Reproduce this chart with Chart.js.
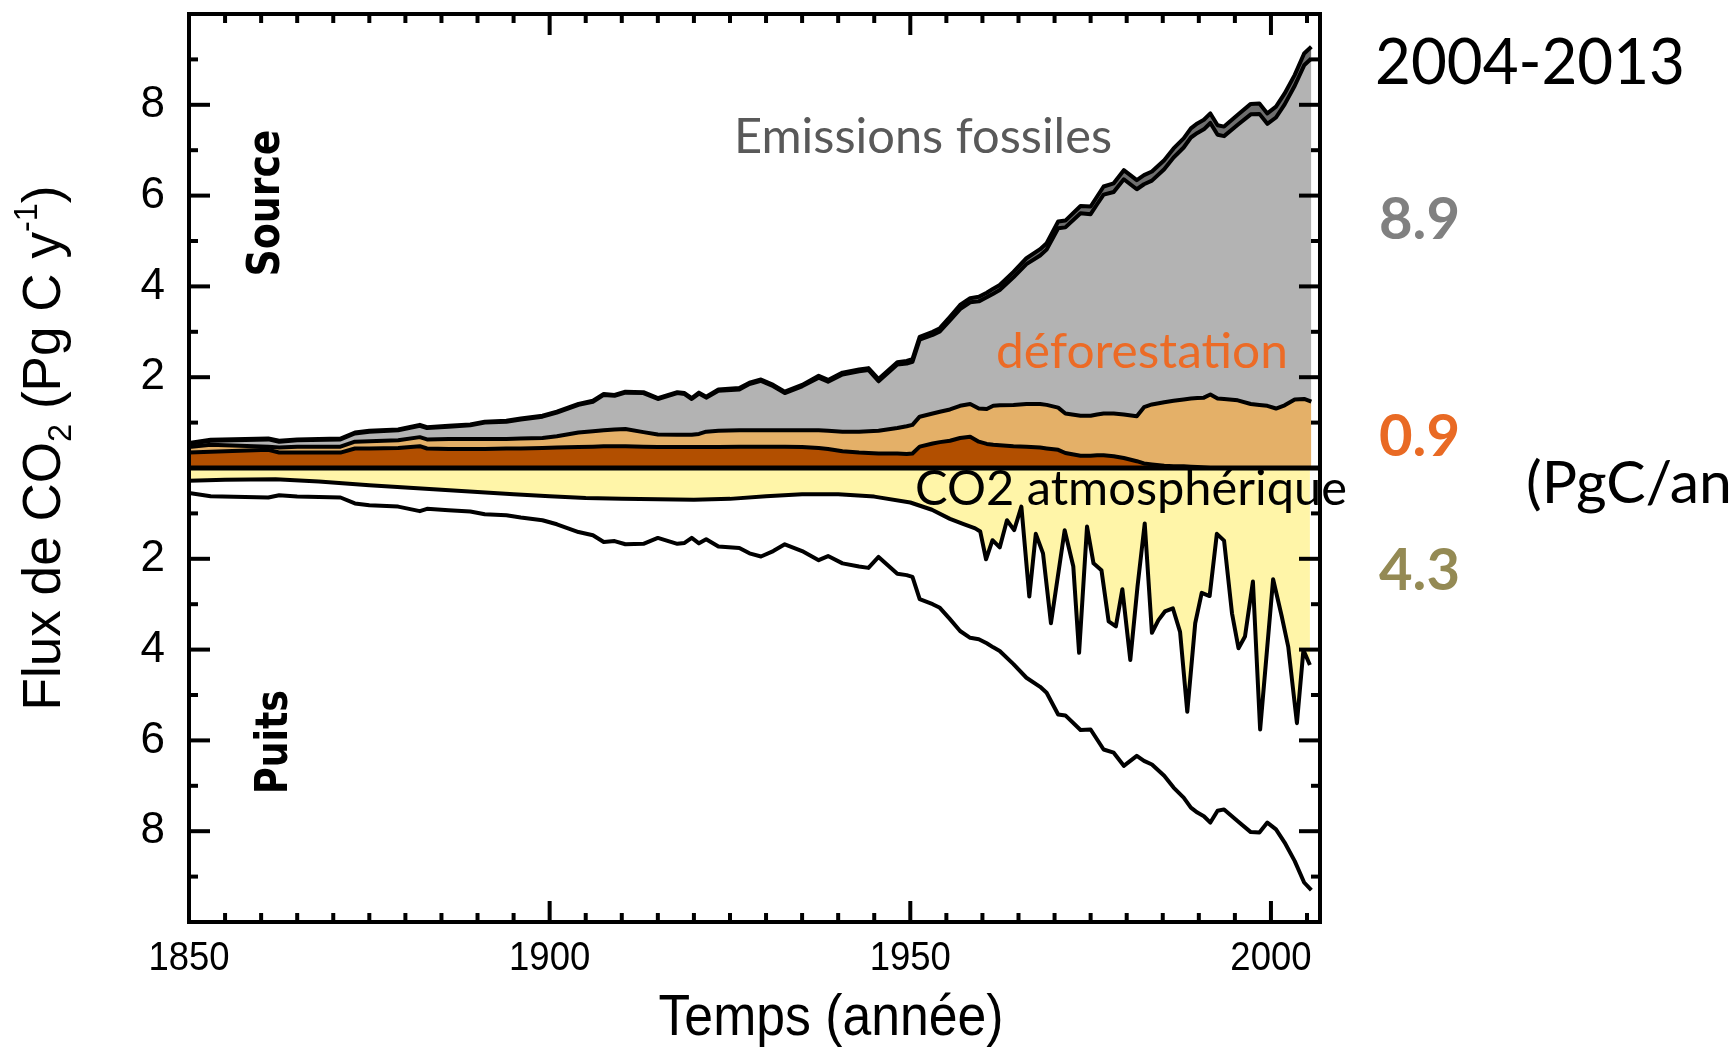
<!DOCTYPE html>
<html>
<head>
<meta charset="utf-8">
<title>Flux de CO2</title>
<script src="https://cdn.jsdelivr.net/npm/chart.js@4.4.1/dist/chart.umd.min.js"></script>
<style>
  html, body { margin: 0; padding: 0; background: #fff; }
  canvas { display: block; }
</style>
</head>
<body>
<canvas id="budget" width="1730" height="1052"></canvas>
<script>
// years used by the source layers and by the sink line
const years = [
  1850, 1853, 1861, 1862.5, 1865, 1871, 1873, 1875, 1879, 1882,
  1883, 1886, 1889, 1891, 1894, 1896, 1899, 1901, 1904, 1906,
  1907.5, 1909, 1910.5, 1913, 1915, 1917.7, 1918.7, 1919.7, 1920.7, 1921.7,
  1923.4, 1926.3, 1927.7, 1929.3, 1931, 1932.6, 1935, 1937.3, 1938.6, 1940.6,
  1942.9, 1944.2, 1945.6, 1948.2, 1949.5, 1950.3, 1951.3, 1953.1, 1954.1, 1955.5,
  1956.9, 1958.3, 1959.5, 1960.6, 1961.5, 1962.4, 1964.3, 1966.1, 1968, 1968.9,
  1970.5, 1971.5, 1973.6, 1975, 1975.9, 1976.8, 1978.2, 1979.6, 1981.4, 1982.4,
  1983.5, 1985.2, 1986.5, 1987.9, 1988.9, 1989.8, 1990.7, 1991.6, 1992.6, 1993.5,
  1995.4, 1997.2, 1998.4, 1999.5, 2000.7, 2001.9, 2003.3, 2004.6, 2005.6
];

// top of the dark brown band (deforestation, part 1)
const landUseA = [
  0.34, 0.36, 0.40, 0.34, 0.34, 0.34, 0.43, 0.43, 0.44, 0.48,
  0.43, 0.42, 0.42, 0.42, 0.43, 0.43, 0.44, 0.45, 0.46, 0.47,
  0.48, 0.48, 0.48, 0.47, 0.46, 0.46, 0.46, 0.46, 0.46, 0.46,
  0.46, 0.47, 0.47, 0.47, 0.47, 0.47, 0.46, 0.44, 0.42, 0.37,
  0.34, 0.33, 0.32, 0.32, 0.31, 0.32, 0.47, 0.54, 0.57, 0.60,
  0.66, 0.69, 0.58, 0.53, 0.51, 0.50, 0.48, 0.47, 0.45, 0.43,
  0.40, 0.33, 0.27, 0.27, 0.28, 0.28, 0.26, 0.22, 0.15, 0.10,
  0.08, 0.05, 0.04, 0.04, 0.03, 0.02, 0.01, 0, 0, 0,
  0, 0, 0, 0, 0, 0, 0, 0, 0
];

// top of the tan band (total deforestation)
const landUseB = [
  0.46, 0.51, 0.47, 0.45, 0.47, 0.47, 0.58, 0.59, 0.61, 0.68,
  0.63, 0.64, 0.64, 0.64, 0.64, 0.65, 0.66, 0.70, 0.78, 0.81,
  0.83, 0.85, 0.86, 0.79, 0.74, 0.73, 0.73, 0.73, 0.75, 0.80,
  0.82, 0.83, 0.83, 0.83, 0.83, 0.83, 0.83, 0.83, 0.82, 0.80,
  0.80, 0.81, 0.82, 0.88, 0.92, 0.95, 1.13, 1.20, 1.24, 1.29,
  1.37, 1.41, 1.31, 1.30, 1.37, 1.38, 1.39, 1.41, 1.41, 1.39,
  1.33, 1.20, 1.15, 1.15, 1.18, 1.20, 1.20, 1.18, 1.14, 1.34,
  1.40, 1.45, 1.48, 1.51, 1.53, 1.54, 1.55, 1.62, 1.53, 1.52,
  1.49, 1.41, 1.39, 1.37, 1.31, 1.38, 1.51, 1.52, 1.46
];

// fossil emissions without the thin dark top band
const fossilLow = [
  0.53, 0.60, 0.63, 0.58, 0.61, 0.63, 0.76, 0.80, 0.83, 0.93,
  0.88, 0.91, 0.94, 1.00, 1.02, 1.07, 1.13, 1.22, 1.39, 1.46,
  1.61, 1.59, 1.66, 1.65, 1.52, 1.65, 1.63, 1.52, 1.64, 1.55,
  1.70, 1.73, 1.85, 1.92, 1.80, 1.65, 1.80, 1.99, 1.90, 2.06,
  2.13, 2.16, 1.91, 2.28, 2.30, 2.34, 2.83, 2.93, 3.01, 3.25,
  3.50, 3.65, 3.67, 3.76, 3.84, 3.92, 4.20, 4.49, 4.68, 4.81,
  5.28, 5.30, 5.61, 5.59, 5.81, 6.02, 6.08, 6.36, 6.14, 6.25,
  6.33, 6.58, 6.84, 7.06, 7.28, 7.38, 7.46, 7.60, 7.34, 7.31,
  7.56, 7.79, 7.80, 7.58, 7.72, 8.01, 8.42, 8.87, 9.02
];

// total sources (top line)
const fossilTop = [
  0.55, 0.62, 0.65, 0.60, 0.63, 0.65, 0.78, 0.82, 0.85, 0.95,
  0.90, 0.93, 0.96, 1.02, 1.04, 1.09, 1.15, 1.24, 1.41, 1.48,
  1.63, 1.61, 1.68, 1.67, 1.54, 1.67, 1.65, 1.54, 1.66, 1.57,
  1.73, 1.76, 1.88, 1.95, 1.83, 1.68, 1.83, 2.03, 1.94, 2.10,
  2.17, 2.20, 1.96, 2.33, 2.36, 2.40, 2.89, 3.00, 3.08, 3.33,
  3.59, 3.74, 3.77, 3.86, 3.95, 4.03, 4.32, 4.62, 4.82, 4.95,
  5.43, 5.45, 5.77, 5.76, 5.98, 6.20, 6.27, 6.56, 6.34, 6.45,
  6.53, 6.78, 7.04, 7.26, 7.48, 7.59, 7.67, 7.81, 7.55, 7.52,
  7.78, 8.02, 8.03, 7.81, 7.96, 8.25, 8.66, 9.13, 9.28
];

// total sinks (bottom line)
const sinkTotal = [
  -0.55, -0.62, -0.65, -0.60, -0.63, -0.65, -0.78, -0.82, -0.85, -0.95,
  -0.90, -0.93, -0.96, -1.02, -1.04, -1.09, -1.15, -1.24, -1.41, -1.48,
  -1.63, -1.61, -1.68, -1.67, -1.54, -1.67, -1.65, -1.54, -1.66, -1.57,
  -1.73, -1.76, -1.88, -1.95, -1.83, -1.68, -1.83, -2.03, -1.94, -2.10,
  -2.17, -2.20, -1.96, -2.33, -2.36, -2.40, -2.89, -3.00, -3.08, -3.33,
  -3.59, -3.74, -3.77, -3.86, -3.95, -4.03, -4.32, -4.62, -4.82, -4.95,
  -5.43, -5.45, -5.77, -5.76, -5.98, -6.20, -6.27, -6.56, -6.34, -6.45,
  -6.53, -6.78, -7.04, -7.26, -7.48, -7.59, -7.67, -7.81, -7.55, -7.52,
  -7.78, -8.02, -8.03, -7.81, -7.96, -8.25, -8.66, -9.13, -9.30
];

// atmospheric growth (yellow area, drawn below zero)
const atmYears = [
  1850, 1855, 1862, 1868, 1875, 1880, 1885, 1890, 1895, 1900,
  1905, 1910, 1915, 1920, 1925, 1930, 1935, 1940, 1945, 1950,
  1953, 1955.5, 1957.3, 1959, 1959.7, 1960.5, 1961.4, 1962.4, 1963.4, 1964.4,
  1965.4, 1966.5, 1967.4, 1968.4, 1969.5, 1971.4, 1972.6, 1973.4, 1974.5, 1975.4,
  1976.5, 1977.5, 1978.5, 1979.4, 1980.5, 1981.5, 1982.5, 1983.5, 1984.4, 1985.3,
  1986.4, 1987.4, 1988.4, 1989.5, 1990.4, 1991.5, 1992.5, 1993.5, 1994.6, 1995.5,
  1996.4, 1997.5, 1998.5, 2000.3, 2001.5, 2002.4, 2003.6, 2004.5, 2005.4
];
const atmGrowth = [
  -0.28, -0.26, -0.25, -0.30, -0.38, -0.43, -0.48, -0.53, -0.58, -0.62,
  -0.66, -0.68, -0.69, -0.70, -0.68, -0.62, -0.58, -0.58, -0.63, -0.76,
  -0.92, -1.12, -1.23, -1.33, -1.40, -2.01, -1.59, -1.75, -1.15, -1.37,
  -0.85, -2.83, -1.45, -1.88, -3.42, -1.37, -2.17, -4.07, -1.29, -2.10,
  -2.25, -3.38, -3.49, -2.67, -4.23, -2.61, -1.22, -3.63, -3.35, -3.16,
  -3.09, -3.61, -5.37, -3.42, -2.75, -2.82, -1.45, -1.60, -3.20, -3.97,
  -3.71, -2.50, -5.76, -2.45, -3.27, -3.94, -5.62, -4.01, -4.34
];

const xTickVals = [1850, 1900, 1950, 2000];
const yTickVals = [-8, -6, -4, -2, 2, 4, 6, 8];

const pts = (xs, ys) => xs.map((x, i) => ({ x: x, y: ys[i] }));

function label(ctx, str, x, y, o) {
    ctx.save();
    ctx.font = o.font;
    ctx.fillStyle = o.color || '#000';
    ctx.textBaseline = 'alphabetic';
    ctx.textAlign = 'left';
    const w = ctx.measureText(str).width;
    const k = o.width ? o.width / w : (o.squeeze || 1);
    ctx.translate(x, y);
    if (o.rotate) ctx.rotate(o.rotate);
    ctx.scale(k, 1);
    ctx.fillText(str, o.center ? -w / 2 : 0, 0);
    ctx.restore();
}

function yTitle(ctx) {
    const size = 54;
    const parts = [['Flux de CO', 1, 0], ['2', 0.62, 0.2], [' (Pg C y', 1, 0], ['-1', 0.62, -0.42], [')', 1, 0]];
    ctx.save();
    ctx.translate(60, 448);
    ctx.rotate(-Math.PI / 2);
    let total = 0;
    const widths = parts.map(p => {
        ctx.font = Math.round(size * p[1]) + 'px "Liberation Sans"';
        const w = ctx.measureText(p[0]).width;
        total += w;
        return w;
    });
    ctx.scale(525 / total, 1);
    ctx.fillStyle = '#000';
    ctx.textBaseline = 'alphabetic';
    let cx = -total / 2;
    parts.forEach((p, i) => {
        ctx.font = Math.round(size * p[1]) + 'px "Liberation Sans"';
        ctx.fillText(p[0], cx, p[2] * size);
        cx += widths[i];
    });
    ctx.restore();
}

// frame, inward ticks, zero line and all annotations
const decor = {
    id: 'decor',
    afterDatasetsDraw(chart) {
        const { ctx, chartArea: a, scales: { x, y } } = chart;
        const seg = (x1, y1, x2, y2) => { ctx.beginPath(); ctx.moveTo(x1, y1); ctx.lineTo(x2, y2); ctx.stroke(); };
        ctx.save();
        ctx.strokeStyle = '#000';
        ctx.lineWidth = 5;
        const y0 = y.getPixelForValue(0);
        seg(a.left, y0, a.right, y0);
        ctx.lineWidth = 4;
        ctx.strokeRect(a.left, a.top, a.right - a.left, a.bottom - a.top);
        for (let v = -9; v <= 9; v++) {
            if (v === 0) continue;
            const py = y.getPixelForValue(v);
            const len = v % 2 === 0 ? 21 : 9;
            seg(a.left, py, a.left + len, py);
            seg(a.right, py, a.right - len, py);
        }
        for (let v = 1855; v <= 2005; v += 5) {
            const px = x.getPixelForValue(v);
            const len = v % 50 === 0 ? 21 : 9;
            seg(px, a.bottom, px, a.bottom - len);
            seg(px, a.top, px, a.top + len);
        }
        ctx.restore();
    },
    afterDraw(chart) {
        const ctx = chart.ctx;
        const xs = chart.scales.x;
        // bottom tick labels, slightly condensed like the original
        xTickVals.forEach(v => {
            label(ctx, String(v), xs.getPixelForValue(v), 970, { font: '41px "Liberation Sans"', squeeze: 0.89, center: true });
        });
        yTitle(ctx);
        label(ctx, 'Temps (année)', 831, 1035, { font: '58px "Liberation Sans"', width: 345, center: true });
        label(ctx, 'Source', 279, 203, { font: 'bold 44px "DejaVu Sans"', width: 147, center: true, rotate: -Math.PI / 2 });
        label(ctx, 'Puits', 287, 742, { font: 'bold 44px "DejaVu Sans"', width: 104, center: true, rotate: -Math.PI / 2 });
        label(ctx, 'Emissions fossiles', 734, 153, { font: '48px Lato', color: '#595959', width: 378 });
        label(ctx, 'déforestation', 996, 368, { font: '48px Lato', color: '#ec6b26', width: 292 });
        label(ctx, 'CO2 atmosphérique', 915, 505, { font: '48px Lato', width: 432 });
        label(ctx, '2004-2013', 1375, 84, { font: '64px Lato', width: 310 });
        label(ctx, '8.9', 1379, 239, { font: 'bold 58px Lato', color: '#808080', width: 81 });
        label(ctx, '0.9', 1379, 456, { font: 'bold 58px Lato', color: '#e96a24', width: 81 });
        label(ctx, '4.3', 1379, 590, { font: 'bold 58px Lato', color: '#948a54', width: 81 });
        label(ctx, '(PgC/an', 1526, 503, { font: '58px Lato', width: 206 });
    }
};

const black = '#000';
const ctx = document.getElementById('budget').getContext('2d');
Chart.defaults.font.family = '"Liberation Sans"';

new Chart(ctx, {
    type: 'line',
    data: {
        datasets: [
            { label: 'landUseA', data: pts(years, landUseA), fill: 'origin', backgroundColor: '#b24f00', borderColor: black, borderWidth: 4 },
            { label: 'landUseB', data: pts(years, landUseB), fill: '-1', backgroundColor: '#e4b068', borderColor: black, borderWidth: 4 },
            { label: 'fossilLow', data: pts(years, fossilLow), fill: '-1', backgroundColor: '#b3b3b3', borderColor: black, borderWidth: 4 },
            { label: 'fossilTop', data: pts(years, fossilTop), fill: '-1', backgroundColor: '#6e6e6e', borderColor: black, borderWidth: 4 },
            { label: 'atm', data: pts(atmYears, atmGrowth), fill: 'origin', backgroundColor: '#fff5a8', borderColor: black, borderWidth: 4 },
            { label: 'sink', data: pts(years, sinkTotal), fill: false, borderColor: black, borderWidth: 4 }
        ]
    },
    options: {
        responsive: false,
        animation: false,
        devicePixelRatio: 1,
        layout: { padding: { left: 0, right: 410, top: 14, bottom: 0 } },
        elements: { point: { radius: 0 }, line: { tension: 0, borderJoinStyle: 'round' } },
        plugins: { legend: { display: false }, tooltip: { enabled: false } },
        scales: {
            x: {
                type: 'linear', min: 1850, max: 2006.8,
                afterFit: s => { s.height = 130; s.paddingLeft = 0; s.paddingRight = 0; },
                afterBuildTicks: s => { s.ticks = xTickVals.map(v => ({ value: v })); },
                grid: { display: false, drawTicks: false },
                border: { display: false },
                ticks: { display: false }
            },
            y: {
                type: 'linear', min: -10, max: 10,
                afterFit: s => { s.width = 189; s.paddingTop = 0; s.paddingBottom = 0; },
                afterBuildTicks: s => { s.ticks = yTickVals.map(v => ({ value: v })); },
                grid: { display: false, drawTicks: false },
                border: { display: false },
                ticks: { padding: 24, color: black, font: { size: 44 }, autoSkip: false, callback: v => String(Math.abs(v)) }
            }
        }
    },
    plugins: [decor]
});
</script>
</body>
</html>
